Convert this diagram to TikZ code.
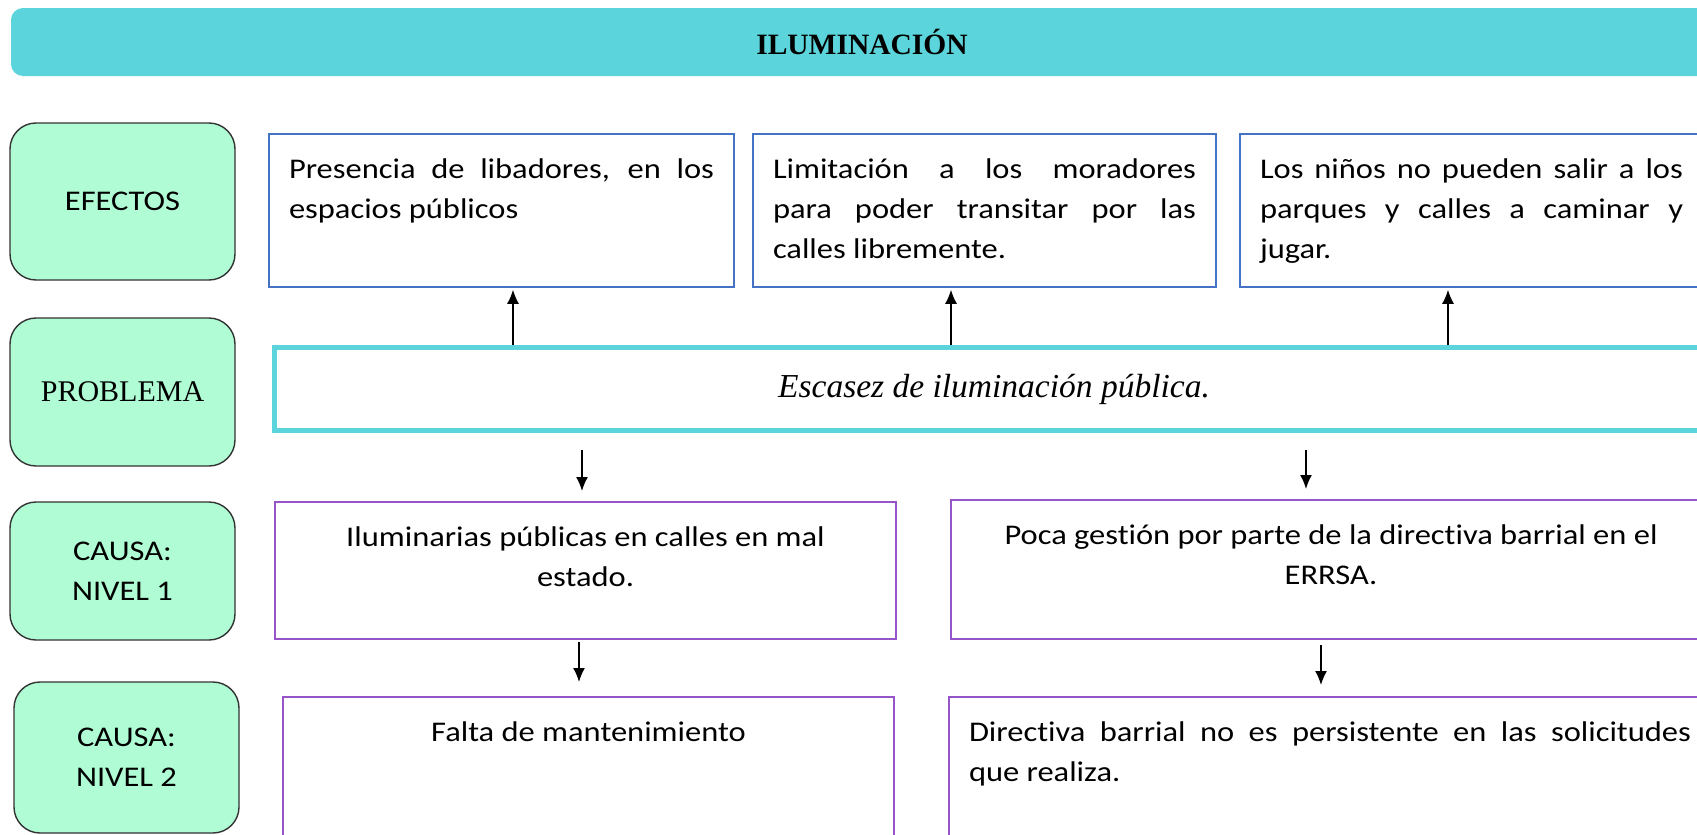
\documentclass[tikz,border=0pt]{standalone}
\usepackage{fontspec}
\setmainfont{Carlito}[FakeStretch=1.14,Ligatures=NoCommon]
\newfontfamily\cambria{Liberation Serif}
\usetikzlibrary{arrows.meta}

\definecolor{turq}{RGB}{91,213,219}
\definecolor{mint}{RGB}{176,253,213}
\definecolor{effblue}{RGB}{68,114,196}
\definecolor{cauviolet}{RGB}{150,85,200}

% text that starts at the top of a box
\newcommand{\toptext}[4]{\parbox[c][#1][t]{#2}{#3\vspace*{16pt}\strut #4}}

\begin{document}
\begin{tikzpicture}[x=1pt,y=-1pt,
  every node/.style={font=\fontsize{28.5}{40}\selectfont},
  header/.style={fill=turq,rounded corners=12pt,minimum width=1702pt,minimum height=68pt,inner sep=0pt,
    font=\cambria\bfseries\fontsize{29.5}{35}\selectfont},
  rowtag/.style={draw=black!80,line width=1.4pt,fill=mint,rounded corners=26pt,minimum width=225pt,align=center,inner sep=0pt},
  effbox/.style={draw=effblue,line width=1.5pt,inner xsep=20pt,inner ysep=0pt},
  caubox/.style={draw=cauviolet,line width=2pt,inner xsep=20pt,inner ysep=0pt},
  probbox/.style={draw=turq,line width=5pt,minimum width=1439pt,minimum height=83pt,
    font=\cambria\itshape\fontsize{33.5}{40}\selectfont},
  arr/.style={-{Latex[length=14pt,width=12pt]},line width=1.6pt}]
  \fill[white] (0,0) rectangle (1697,835);
  \useasboundingbox (0,0) rectangle (1697,835);
  \clip (0,0) rectangle (1697,835);

  \node[header](title)at(862,42){ILUMINACIÓN};

  % left column
  \node[rowtag,minimum height=157pt](tagef)at(122.5,201.5){EFECTOS};
  \node[rowtag,minimum height=148pt,font=\cambria\fontsize{30}{36}\selectfont](tagpr)at(122.5,392){PROBLEMA};
  \node[rowtag,minimum height=138pt](tagc1)at(122.5,571){CAUSA:\\NIVEL 1};
  \node[rowtag,minimum height=151pt](tagc2)at(126.5,757.5){CAUSA:\\NIVEL 2};

  % effects
  \node[effbox](e1)at(501.5,210.5){\toptext{153pt}{425pt}{}{Presencia de libadores, en los\linebreak espacios públicos}};
  \node[effbox](e2)at(984.5,210.5){\toptext{153pt}{423pt}{}{Limitación a los moradores\linebreak para poder transitar por las\linebreak calles libremente.}};
  \node[effbox](e3)at(1471.5,210.5){\toptext{153pt}{423pt}{}{Los niños no pueden salir a los\linebreak parques y calles a caminar y\linebreak jugar.}};

  % problem
  \node[probbox](prob)at(994,389){Escasez de iluminación pública.};

  % causes
  \node[caubox](c1a)at(585.5,570.5){\toptext{137pt}{581pt}{\centering}{Iluminarias públicas en calles en mal\\estado.}};
  \node[caubox](c1b)at(1331,569.5){\toptext{139pt}{720pt}{\centering}{Poca gestión por parte de la directiva barrial en el\\ERRSA.}};
  \node[caubox](c2a)at(588.5,771){\toptext{148pt}{571pt}{\centering}{Falta de mantenimiento}};
  \node[caubox](c2b)at(1330,771){\toptext{148pt}{722pt}{}{Directiva barrial no es persistente en las solicitudes\linebreak que realiza.}};

  % arrows
  \coordinate (a1) at (513,0);
  \coordinate (a2) at (951,0);
  \coordinate (a3) at (1448,0);
  \coordinate (b1) at (582,0);
  \coordinate (b2) at (1306,0);
  \coordinate (d1) at (579,0);
  \coordinate (d2) at (1321,0);
  \draw[arr,shorten >=2pt](prob.north -| a1)--(e1.south -| a1);
  \draw[arr,shorten >=2pt](prob.north -| a2)--(e2.south -| a2);
  \draw[arr,shorten >=2pt](prob.north -| a3)--(e3.south -| a3);
  \draw[arr,shorten <=17pt,shorten >=10pt](prob.south -| b1)--(c1a.north -| b1);
  \draw[arr,shorten <=17pt,shorten >=10pt](prob.south -| b2)--(c1b.north -| b2);
  \draw[arr,shorten <=2pt,shorten >=14pt](c1a.south -| d1)--(c2a.north -| d1);
  \draw[arr,shorten <=5pt,shorten >=11pt](c1b.south -| d2)--(c2b.north -| d2);
\end{tikzpicture}
\end{document}
